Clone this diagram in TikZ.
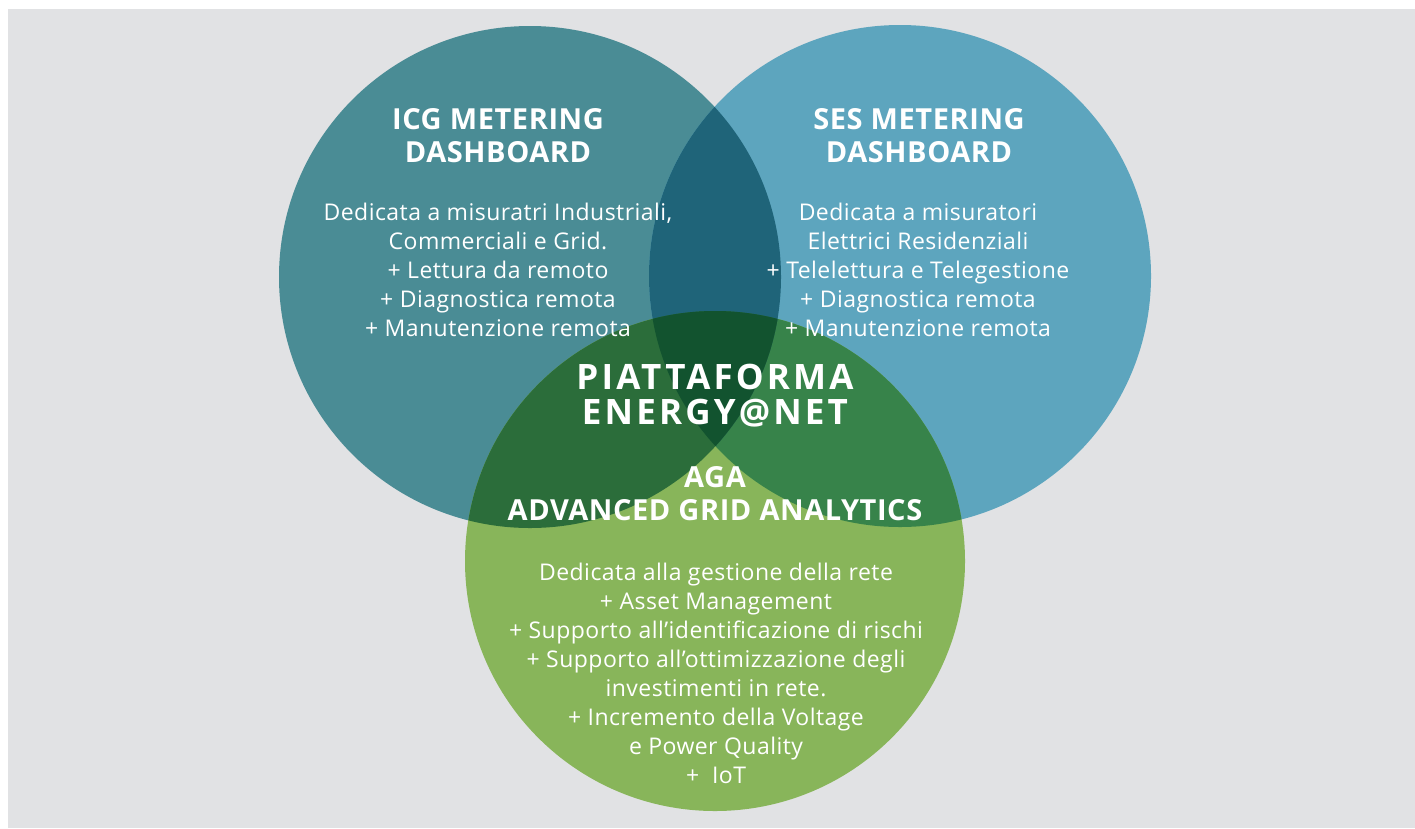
\documentclass[tikz,border=0pt]{standalone}
\usepackage{fontspec}
\setmainfont{Open Sans}
\newfontfamily\bodyfont[LetterSpace=2]{Open Sans}
\newfontfamily\headfont[LetterSpace=2]{Open Sans}
\newfontfamily\bigfont[LetterSpace=9]{Open Sans}
\definecolor{bg}{HTML}{E1E2E4}
\definecolor{cL}{HTML}{4A8C95}
\definecolor{cR}{HTML}{5DA5BE}
\definecolor{cB}{HTML}{88B55A}
\definecolor{cLR}{HTML}{1F6479}
\definecolor{cLB}{HTML}{2B6D3A}
\definecolor{cRB}{HTML}{37834A}
\definecolor{cLRB}{HTML}{12532F}
\tikzset{
  head/.style={text=white, align=center, font=\headfont\bfseries\fontsize{29}{33}\selectfont, inner sep=0pt},
  body/.style={text=white, align=center, font=\bodyfont\fontsize{23}{29}\selectfont, inner sep=0pt},
  big/.style={text=white, align=center, font=\bigfont\bfseries\fontsize{35}{35}\selectfont, inner sep=0pt},
}
\begin{document}
\begin{tikzpicture}[x=1pt,y=-1pt]
\useasboundingbox (0,0) rectangle (1415,828);
\fill[white] (0,0) rectangle (1415,828);
\fill[bg] (8,9) rectangle (1415,828);
\def\cLpath{(530,277) circle (251)}
\def\cRpath{(900,276) circle (251)}
\def\cBpath{(715,561) circle (250)}
\fill[cL] \cLpath;
\fill[cR] \cRpath;
\fill[cB] \cBpath;
\begin{scope}
  \clip \cRpath;
  \fill[cRB] \cBpath;
\end{scope}
\begin{scope}
  \clip \cLpath;
  \fill[cLR] \cRpath;
  \fill[cLB] \cBpath;
  \clip \cRpath;
  \fill[cLRB] \cBpath;
\end{scope}
\node[head] (icgh) at (498,136) {ICG METERING\\DASHBOARD};
\node[body] (icgb) at (498,270) {Dedicata a misuratri Industriali,\\Commerciali e Grid.\\+ Lettura da remoto\\+ Diagnostica remota\\+ Manutenzione remota};
\node[head] (sesh) at (919,136) {SES METERING\\DASHBOARD};
\node[body] (sesb) at (918,270) {Dedicata a misuratori\\Elettrici Residenziali\\+ Telelettura e Telegestione\\+ Diagnostica remota\\+ Manutenzione remota};
\node[big] (piat) at (715,396) {PIATTAFORMA\\ENERGY@NET};
\node[head] (agah) at (715,494) {AGA\\ADVANCED GRID ANALYTICS};
\node[body] (agab) at (716,673) {Dedicata alla gestione della rete\\+ Asset Management\\+ Supporto all’identificazione di rischi\\+ Supporto all’ottimizzazione degli\\investimenti in rete.\\+ Incremento della Voltage\\e Power Quality\\+~~IoT};
\end{tikzpicture}
\end{document}
